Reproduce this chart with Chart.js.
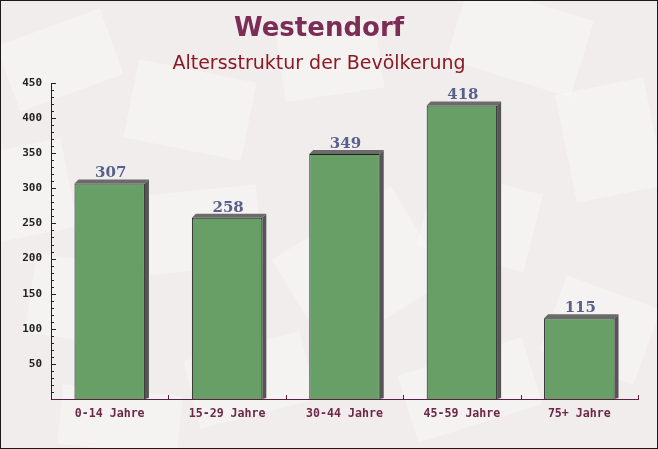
<!DOCTYPE html>
<html>
<head>
<meta charset="utf-8">
<script src="https://cdn.jsdelivr.net/npm/chart.js@4/dist/chart.umd.min.js"></script>
<style>
html,body{margin:0;padding:0;background:#f3f0f0;}
#wrap{width:658px;height:449px;position:relative;}
</style>
</head>
<body>
<div id="wrap"><canvas id="c" width="658" height="449"></canvas></div>
<script>
const categories = ['0-14 Jahre', '15-29 Jahre', '30-44 Jahre', '45-59 Jahre', '75+ Jahre'];
const population = [307, 258, 349, 418, 115];
const yTickValues = [50, 100, 150, 200, 250, 300, 350, 400, 450];
const titleText = 'Westendorf';
const subtitleText = 'Altersstruktur der Bevölkerung';

const bgPlugin = {
  id: 'bg',
  beforeDraw(chart) {
    const ctx = chart.ctx;
    ctx.save();
    ctx.fillStyle = '#f1eded';
    ctx.fillRect(0, 0, chart.width, chart.height);
    // faint decorative paper shapes
    const shapes = [
      [60, 60, 110, 70, -0.35], [190, 110, 120, 80, 0.2], [330, 60, 100, 70, -0.15],
      [520, 40, 130, 80, 0.3], [610, 140, 90, 110, -0.2], [480, 220, 110, 80, 0.25],
      [360, 270, 140, 110, -0.55], [200, 230, 120, 80, -0.1], [80, 300, 100, 80, 0.15],
      [250, 380, 120, 70, -0.25], [600, 330, 100, 80, 0.35], [470, 390, 130, 70, -0.3],
      [30, 190, 80, 90, -0.2], [120, 420, 120, 60, 0.1]
    ];
    ctx.fillStyle = 'rgba(255,255,255,0.28)';
    shapes.forEach(s => {
      ctx.save();
      ctx.translate(s[0], s[1]);
      ctx.rotate(s[4]);
      ctx.fillRect(-s[2] / 2, -s[3] / 2, s[2], s[3]);
      ctx.restore();
    });
    ctx.restore();
  },
  afterDraw(chart) {
    const ctx = chart.ctx;
    ctx.save();
    ctx.strokeStyle = '#1a1a1a';
    ctx.lineWidth = 1;
    ctx.strokeRect(0.5, 0.5, chart.width - 1, chart.height - 1);
    ctx.restore();
  }
};

const shadowPlugin = {
  id: 'shadow3d',
  beforeDatasetsDraw(chart) {
    const ctx = chart.ctx;
    const meta = chart.getDatasetMeta(0);
    const d = 4;
    ctx.save();
    meta.data.forEach(bar => {
      const p = bar.getProps(['x', 'y', 'width', 'base'], true);
      const l = p.x - p.width / 2, r = p.x + p.width / 2;
      ctx.fillStyle = '#6b6b6b';
      ctx.beginPath();
      ctx.moveTo(l, p.y);
      ctx.lineTo(l + d, p.y - d);
      ctx.lineTo(r + d, p.y - d);
      ctx.lineTo(r, p.y);
      ctx.closePath();
      ctx.fill();
      ctx.fillStyle = '#555555';
      ctx.beginPath();
      ctx.moveTo(r, p.y);
      ctx.lineTo(r + d, p.y - d);
      ctx.lineTo(r + d, p.base - 1);
      ctx.lineTo(r, p.base);
      ctx.closePath();
      ctx.fill();
    });
    ctx.restore();
  },
  afterDatasetsDraw(chart) {
    const ctx = chart.ctx;
    const meta = chart.getDatasetMeta(0);
    ctx.save();
    ctx.font = 'bold 15px "DejaVu Serif"';
    ctx.fillStyle = '#58608c';
    ctx.textAlign = 'center';
    ctx.textBaseline = 'alphabetic';
    meta.data.forEach((bar, i) => {
      ctx.fillText(String(population[i]), bar.x + 1, bar.y - 6);
    });
    // minor ticks on y axis (inward)
    const ys = chart.scales.y, xs = chart.scales.x;
    const ax = chart.chartArea.left;
    ctx.strokeStyle = '#222';
    ctx.lineWidth = 1;
    for (let v = 10; v <= 450; v += 10) {
      const py = Math.round(ys.getPixelForValue(v)) + 0.5;
      const len = (v % 50 === 0) ? 5 : 3;
      ctx.beginPath();
      ctx.moveTo(ax, py);
      ctx.lineTo(ax + len, py);
      ctx.stroke();
    }
    // x category boundary ticks (inward)
    ctx.strokeStyle = '#5a2040';
    const n = categories.length;
    const step = xs.getPixelForValue(1) - xs.getPixelForValue(0);
    for (let i = 0; i < n; i++) {
      const px = Math.round(xs.getPixelForValue(i) + step / 2) + 0.5;
      ctx.beginPath();
      ctx.moveTo(px, chart.chartArea.bottom);
      ctx.lineTo(px, chart.chartArea.bottom - 4);
      ctx.stroke();
    }
    ctx.restore();
  }
};

new Chart(document.getElementById('c'), {
  type: 'bar',
  data: {
    labels: categories,
    datasets: [{
      data: population,
      backgroundColor: 'rgba(88,150,88,0.9)',
      borderColor: '#1e1e1e',
      borderWidth: 1,
      borderSkipped: 'bottom',
      barPercentage: 0.6,
      categoryPercentage: 1.0
    }]
  },
  options: {
    responsive: false,
    animation: false,
    devicePixelRatio: 1,
    layout: { padding: { left: 0, right: 20, top: 0, bottom: 0 } },
    plugins: {
      legend: { display: false },
      tooltip: { enabled: false },
      title: {
        display: true,
        text: titleText,
        color: '#7b2d55',
        font: { family: 'DejaVu Sans', size: 26, weight: 'bold' },
        padding: { top: 14, bottom: 0 }
      },
      subtitle: {
        display: true,
        text: subtitleText,
        color: '#8b1a24',
        font: { family: 'DejaVu Sans', size: 19, weight: 'normal' },
        padding: { top: 7, bottom: 8 }
      }
    },
    scales: {
      x: {
        grid: { display: false, drawTicks: false },
        border: { display: true, color: '#5a2040', width: 1 },
        ticks: {
          color: '#6b2848',
          font: { family: 'DejaVu Sans Mono', size: 11.6, weight: 'bold' },
          padding: 8,
          maxRotation: 0
        },
        afterFit(scale) { scale.height = 50; }
      },
      y: {
        min: 0,
        max: 450,
        grid: { display: false, drawTicks: false },
        border: { display: true, color: '#222', width: 1 },
        afterBuildTicks(scale) {
          scale.ticks = yTickValues.map(v => ({ value: v }));
        },
        ticks: {
          color: '#222',
          font: { family: 'DejaVu Sans Mono', size: 11, weight: 'bold' },
          padding: 9
        },
        afterFit(scale) { scale.width = 51; }
      }
    }
  },
  plugins: [bgPlugin, shadowPlugin]
});
</script>
</body>
</html>
